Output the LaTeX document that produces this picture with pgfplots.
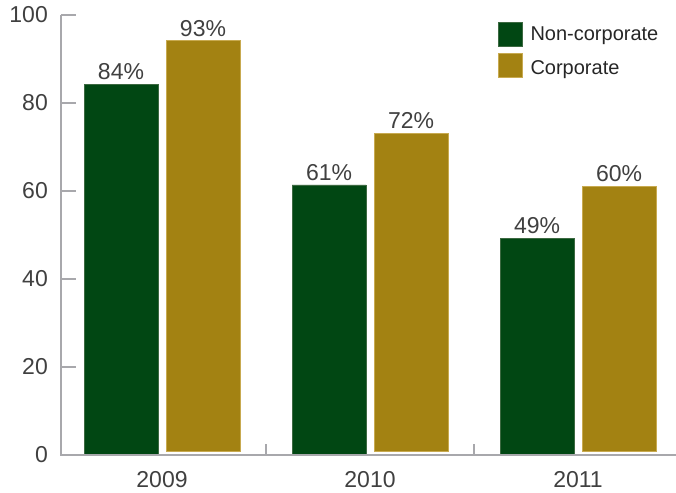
\documentclass[border=0pt]{standalone}
\usepackage{fontspec}
\setmainfont{Liberation Sans}
\usepackage{pgfplots}
\usepackage{pgfplotstable}
\pgfplotsset{compat=1.18}
\definecolor{ncgreen}{RGB}{1,71,19}
\definecolor{cgold}{RGB}{163,130,18}
\definecolor{ncedge}{RGB}{60,105,65}
\definecolor{cedge}{RGB}{200,170,80}
\definecolor{axgray}{RGB}{168,168,172}
\definecolor{txt}{RGB}{64,64,64}
\pgfplotstableread{
x val lab
0 84.3 84\%
1 61.4 61\%
2 49.3 49\%
}\noncorp
\pgfplotstableread{
x val lab
0 93.4 93\%
1 72.3 72\%
2 60.3 60\%
}\corp
\begin{document}
\begin{tikzpicture}
\useasboundingbox (0,0) rectangle (676pt,492pt);
\begin{axis}[
  at={(61pt,37pt)}, anchor=south west,
  scale only axis, width=615pt, height=440pt,
  xmin=-0.4856, xmax=2.471, ymin=0, ymax=100,
  axis x line*=bottom, axis y line*=left,
  axis line style={draw=none},
  ytick={0,20,40,60,80,100},
  xtick={0,1,2}, xticklabels={2009,2010,2011},
  tick align=inside,
  major tick length=0pt,
  tick style={draw=none},
  /pgf/number format/assume math mode=true,
  tick label style={font=\fontsize{23}{27}\selectfont, text=txt, inner sep=0pt},
  every y tick label/.append style={xshift=-13pt},
  every x tick label/.append style={yshift=-16.5pt},
  ybar=8pt, bar width=74pt,
  clip=false,
  nodes near coords,
  point meta=explicit symbolic,
  every node near coord/.append style={font=\fontsize{23}{27}\selectfont, text=txt, inner sep=0pt, anchor=south, yshift=4pt},
  legend style={at={(0.7106,0.984)}, anchor=north west, draw=none, fill=none,
    font=\fontsize{20}{24}\selectfont, text=black!85, inner sep=0pt, row sep=6pt,
    nodes={inner sep=0pt, anchor=west}},
  legend cell align=left,
  legend image code/.code={\fill[#1] (0pt,-12pt) rectangle (24pt,12pt); \path[draw=none, fill=none] (0pt,0pt) -- (32pt,0pt);},
]
\addplot[fill=ncgreen, draw=ncedge, line width=0.6pt] table[x=x, y=val, meta=lab] {\noncorp};
\addplot[fill=cgold, draw=cedge, line width=0.6pt, yshift=3.5pt] table[x=x, y=val, meta=lab] {\corp};
\legend{Non-corporate, Corporate}
\draw[axgray, line width=2.7pt] (rel axis cs:0,1) -- (rel axis cs:0,0) -- (rel axis cs:1,0);
\draw[axgray, line width=2.7pt] (axis cs:-0.4856,20) -- ++(15pt,0pt);
\draw[axgray, line width=2.7pt] (axis cs:-0.4856,40) -- ++(15pt,0pt);
\draw[axgray, line width=2.7pt] (axis cs:-0.4856,60) -- ++(15pt,0pt);
\draw[axgray, line width=2.7pt] (axis cs:-0.4856,80) -- ++(15pt,0pt);
\draw[axgray, line width=2.7pt] (axis cs:-0.4856,100) -- ++(15pt,0pt);
\draw[axgray, line width=2.7pt] (axis cs:0.5,0) -- ++(0pt,11pt);
\draw[axgray, line width=2.7pt] (axis cs:1.5,0) -- ++(0pt,11pt);
\end{axis}
\end{tikzpicture}
\end{document}
